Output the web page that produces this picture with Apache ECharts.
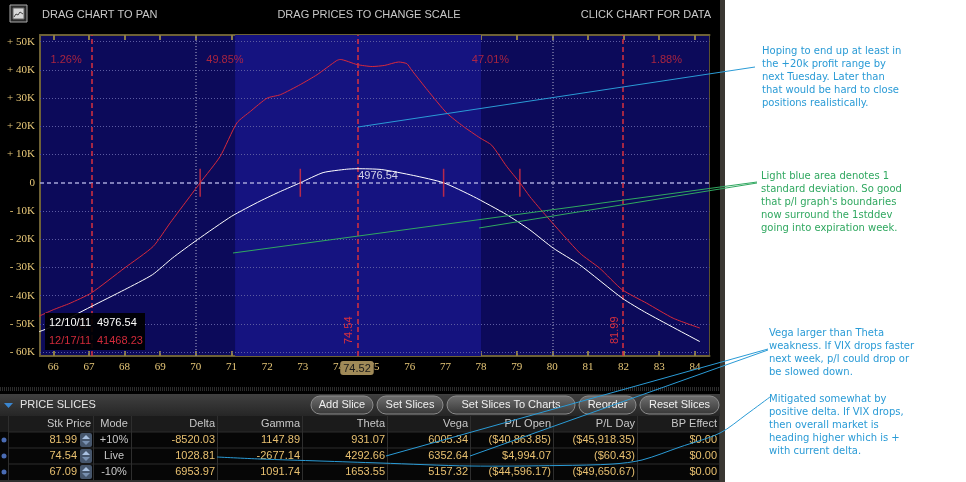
<!DOCTYPE html>
<html><head><meta charset="utf-8">
<script src="https://cdn.jsdelivr.net/npm/echarts@6/dist/echarts.min.js"></script>
<style>html,body{margin:0;padding:0;background:#000;}#c{width:966px;height:482px;}</style>
</head><body><div id="c"></div>
<script>
// ---------- data ----------
const xTicks = [66,67,68,69,70,71,72,73,74,75,76,77,78,79,80,81,82,83,84];
const yTicks = [-60,-50,-40,-30,-20,-10,0,10,20,30,40,50];
const verticalGrid = [70, 80];
// P/L at expiration (12/17/11), thousands of dollars
const expiryX  = [65.6, 66.0, 66.47, 67.06, 68.0, 68.8, 69.28, 69.83, 70.12, 70.68, 71.15, 71.53, 72.0, 72.37, 72.93, 73.4, 73.95, 74.05, 74.52, 74.95, 75.3, 75.69, 75.92, 76.05, 76.5, 77.04, 77.5, 77.97, 78.3, 78.72, 79.09, 79.37, 79.84, 80.77, 81.33, 81.96, 82.65, 83.39, 84.14];
const expiryPL = [-47.3, -45.0, -42.7, -39.1, -30.2, -22.6, -14.2, -4.9, 0, 9.3, 21.2, 25.3, 30.0, 31.2, 34.8, 38.3, 43.3, 43.7, 41.9, 41.2, 41.6, 42.8, 42.2, 40.0, 32.8, 24.7, 20.0, 15.9, 13.3, 5.8, 0, -4.9, -11.9, -24.9, -30.3, -37.9, -42.7, -48.0, -51.5];
// P/L today (12/10/11), thousands of dollars
const todayX  = [65.6, 66.0, 67.06, 68.0, 68.78, 69.34, 70.04, 71.0, 71.8, 72.37, 72.93, 73.57, 74.23, 74.52, 75.2, 76.1, 76.95, 77.79, 78.72, 79.37, 80.03, 80.77, 81.96, 82.65, 84.14];
const todayPL = [-52.8, -50.8, -43.9, -37.9, -32.6, -26.7, -20.2, -11.9, -6.5, -3.1, 0, 3.6, 4.8, 4.98, 4.7, 2.6, 0, -4.9, -11.3, -16.7, -23.2, -29.1, -40.9, -46.2, -56.3];
const breakevenExpiry = [70.12, 79.09];
const breakevenToday = [72.93, 76.95];
const slicePrices = [67.09, 74.54, 81.99];
const regionPct = ['1.26%', '49.85%', '47.01%', '1.88%'];
const stdDevRange = [71.1, 78.0];
const livePrice = 74.52;
const peakValue = 4976.54;
const readoutDates = ['12/10/11', '12/17/11'];
const readoutValues = ['4976.54', '41468.23'];
const headerTexts = ['DRAG CHART TO PAN', 'DRAG PRICES TO CHANGE SCALE', 'CLICK CHART FOR DATA'];
// price slices table
const tableHeaders = ['Stk Price','Mode','Delta','Gamma','Theta','Vega','P/L Open','P/L Day','BP Effect'];
const stkPrice = ['81.99','74.54','67.09'];
const modes    = ['+10%','Live','-10%'];
const delta    = ['-8520.03','1028.81','6953.97'];
const gamma    = ['1147.89','-2677.14','1091.74'];
const theta    = ['931.07','4292.66','1653.55'];
const vega     = ['6005.34','6352.64','5157.32'];
const plOpen   = ['($40,863.85)','$4,994.07','($44,596.17)'];
const plDay    = ['($45,918.35)','($60.43)','($49,650.67)'];
const bpEffect = ['$0.00','$0.00','$0.00'];
const buttons  = ['Add Slice','Set Slices','Set Slices To Charts','Reorder','Reset Slices'];
const notes = [
  'Hoping to end up at least in\nthe +20k profit range by\nnext Tuesday. Later than\nthat would be hard to close\npositions realistically.',
  'Light blue area denotes 1\nstandard deviation. So good\nthat p/l graph\'s boundaries\nnow surround the 1stddev\ngoing into expiration week.',
  'Vega larger than Theta\nweakness. If VIX drops faster\nnext week, p/l could drop or\nbe slowed down.',
  'Mitigated somewhat by\npositive delta. If VIX drops,\nthen overall market is\nheading higher which is +\nwith current delta.'
];

// ---------- layout constants ----------
const xMin = 65.627, xMax = 84.41, yMin = -61.4, yMax = 52.37;
const SANS = 'Liberation Sans, Arial, sans-serif';
const zip = (xs, ys) => xs.map((x, i) => [x, ys[i]]);
const bounds = [xMin].concat(slicePrices, [xMax]);

const chart = echarts.init(document.getElementById('c'), null, {renderer: 'canvas'});

// ---------- graphics (chrome, table, annotations) ----------
const G = [];
G.push({type:'rect', shape:{x:720,y:0,width:5,height:482}, style:{fill:'#3b3833'}, z:1});
G.push({type:'rect', shape:{x:725,y:0,width:241,height:482}, style:{fill:'#ffffff'}, z:1});
// header icon
G.push({type:'rect', shape:{x:10,y:5,width:17,height:17}, style:{fill:'#2a2a2a', stroke:'#aaaaaa', lineWidth:1}, z:10});
G.push({type:'rect', shape:{x:13,y:8,width:11,height:11}, style:{fill:'#d8d8d8', stroke:'#666', lineWidth:1}, z:11});
G.push({type:'polyline', shape:{points:[[14,17],[16,14],[18,15],[20,12],[23,14]]}, style:{stroke:'#444', lineWidth:1, fill:null}, z:12});
// header texts
G.push({type:'text', x:42, y:15, style:{text:headerTexts[0], fill:'#c8c8c8', font:'11px '+SANS, verticalAlign:'middle'}, z:10});
G.push({type:'text', x:369, y:15, style:{text:headerTexts[1], fill:'#c8c8c8', font:'11px '+SANS, verticalAlign:'middle', align:'center'}, z:10});
G.push({type:'text', x:711, y:15, style:{text:headerTexts[2], fill:'#c8c8c8', font:'11px '+SANS, verticalAlign:'middle', align:'right'}, z:10});
// readout box
G.push({type:'rect', shape:{x:45,y:313,width:100,height:37}, style:{fill:'rgba(0,0,0,0.92)'}, z:60});
G.push({type:'text', x:49, y:323, style:{text:readoutDates[0], fill:'#ffffff', font:'11px '+SANS, verticalAlign:'middle'}, z:61});
G.push({type:'text', x:97, y:323, style:{text:readoutValues[0], fill:'#ffffff', font:'11px '+SANS, verticalAlign:'middle'}, z:61});
G.push({type:'text', x:49, y:341, style:{text:readoutDates[1], fill:'#d02a3a', font:'11px '+SANS, verticalAlign:'middle'}, z:61});
G.push({type:'text', x:97, y:341, style:{text:readoutValues[1], fill:'#d02a3a', font:'11px '+SANS, verticalAlign:'middle'}, z:61});
// dotted separator
G.push({type:'line', shape:{x1:0,y1:388,x2:720,y2:388}, style:{stroke:'#5a5a5a', lineWidth:1, lineDash:[1,1]}, z:10});
G.push({type:'line', shape:{x1:0,y1:390,x2:720,y2:390}, style:{stroke:'#5a5a5a', lineWidth:1, lineDash:[1,1]}, z:10});
// price slices header bar
G.push({type:'rect', shape:{x:0,y:394,width:720,height:22}, style:{fill:new echarts.graphic.LinearGradient(0,0,0,1,[{offset:0,color:'#404040'},{offset:1,color:'#262626'}])}, z:10});
G.push({type:'polygon', shape:{points:[[4,403],[13,403],[8.5,408]]}, style:{fill:'#3a86d0'}, z:11});
G.push({type:'text', x:20, y:405, style:{text:'PRICE SLICES', fill:'#e4e4e4', font:'11px '+SANS, verticalAlign:'middle'}, z:11});
const btnX = [[311,373],[377,443],[447,575],[579,636],[640,719]];
buttons.forEach((b, i) => {
  const [a, e] = btnX[i];
  G.push({type:'rect', shape:{x:a,y:396,width:e-a,height:18,r:9}, style:{fill:new echarts.graphic.LinearGradient(0,0,0,1,[{offset:0,color:'#707070'},{offset:1,color:'#363636'}]), stroke:'#8c8c8c', lineWidth:1}, z:11});
  G.push({type:'text', x:(a+e)/2, y:405, style:{text:b, fill:'#f0f0f0', font:'11px '+SANS, verticalAlign:'middle', align:'center'}, z:12});
});
// table
G.push({type:'rect', shape:{x:0,y:416,width:720,height:16}, style:{fill:'#1b1b1b'}, z:10});
[432,448,464].forEach((y) => {
  G.push({type:'rect', shape:{x:0,y:y,width:720,height:16}, style:{fill:'#060606'}, z:10});
  G.push({type:'line', shape:{x1:8,y1:y,x2:719,y2:y}, style:{stroke:'#2c2c2c', lineWidth:1}, z:11});
});
G.push({type:'rect', shape:{x:0,y:480,width:720,height:2}, style:{fill:'#303030'}, z:10});
[8,93,131,217,302,387,470,553,637,719].forEach((x) => {
  G.push({type:'line', shape:{x1:x+0.5,y1:416,x2:x+0.5,y2:480}, style:{stroke:'#2e2e2e', lineWidth:1}, z:11});
});
const colRight = [91, 114, 215, 300, 385, 468, 551, 635, 717];
tableHeaders.forEach((h, i) => {
  G.push({type:'text', x:colRight[i], y:424, style:{text:h, fill:'#c8c8c8', font:'11px '+SANS, verticalAlign:'middle', align: i===1 ? 'center' : 'right'}, z:12});
});
const rowY = [440, 456, 472];
const cols = [delta, gamma, theta, vega, plOpen, plDay, bpEffect];
rowY.forEach((y, r) => {
  G.push({type:'circle', shape:{cx:4,cy:y,r:2.5}, style:{fill:'#4a6cb4'}, z:12});
  G.push({type:'text', x:77, y:y, style:{text:stkPrice[r], fill:'#e8c070', font:'11px '+SANS, verticalAlign:'middle', align:'right'}, z:12});
  G.push({type:'rect', shape:{x:80,y:y-7,width:12,height:14,r:2}, style:{fill:'#46566c'}, z:12});
  G.push({type:'polygon', shape:{points:[[82,y-1],[90,y-1],[86,y-5]]}, style:{fill:'#a8c0e0'}, z:13});
  G.push({type:'polygon', shape:{points:[[82,y+1],[90,y+1],[86,y+5]]}, style:{fill:'#7890b0'}, z:13});
  G.push({type:'text', x:114, y:y, style:{text:modes[r], fill:'#c8c8c8', font:'11px '+SANS, verticalAlign:'middle', align:'center'}, z:12});
  cols.forEach((c, j) => {
    G.push({type:'text', x:colRight[j+2], y:y, style:{text:c[r], fill:'#e8c070', font:'11px '+SANS, verticalAlign:'middle', align:'right'}, z:12});
  });
});
// annotation lines
const BLUE = '#2a9bd6', GREEN = '#30a860';
G.push({type:'line', shape:{x1:358,y1:127,x2:755,y2:67}, style:{stroke:BLUE, lineWidth:1}, z:80});
G.push({type:'line', shape:{x1:233,y1:253,x2:757,y2:182}, style:{stroke:GREEN, lineWidth:1}, z:80});
G.push({type:'line', shape:{x1:479,y1:228,x2:757,y2:183}, style:{stroke:GREEN, lineWidth:1}, z:80});
G.push({type:'line', shape:{x1:386,y1:456,x2:768,y2:349}, style:{stroke:BLUE, lineWidth:1}, z:80});
G.push({type:'line', shape:{x1:470,y1:456,x2:768,y2:350}, style:{stroke:BLUE, lineWidth:1}, z:80});
G.push({type:'polyline', shape:{smooth:0.3, points:[[217,457],[260,459],[320,461],[380,463],[470,466],[560,465.5],[613,464],[642,460],[680,447],[720,433],[747,414],[770,397]]}, style:{stroke:BLUE, lineWidth:1, fill:null}, z:80});
// annotation texts
const noteStyle = [[762,45,BLUE],[761,169.5,GREEN],[769,326.5,BLUE],[769,392.5,BLUE]];
notes.forEach((t, i) => {
  const [x, y, c] = noteStyle[i];
  G.push({type:'text', x:x, y:y, style:{text:t, fill:c, font:'10px DejaVu Sans, Verdana, sans-serif', lineHeight:13, verticalAlign:'top'}, z:20});
});

// ---------- chart ----------
const gridLines = yTicks.filter(v => v !== 0).map(v => ({yAxis:v, lineStyle:{color:'#5c5ca2', type:[1,2], width:1}}))
  .concat([{yAxis:0, lineStyle:{color:'#a4a4d8', type:[4,3], width:1.5}}])
  .concat(verticalGrid.map(v => ({xAxis:v, lineStyle:{color:'#7a7aa6', type:[1,2], width:1.5}})));

const axisCommon = {
  type:'value', min:xMin, max:xMax,
  axisLine:{show:true, onZero:false, lineStyle:{color:'#6e6236', width:2}},
  axisTick:{show:true, inside:true, length:5, customValues:xTicks, lineStyle:{color:'#8c7c48', width:2}},
  splitLine:{show:false}
};

chart.setOption({
  backgroundColor:'#000000',
  animation:false,
  grid:{left:40, top:35, right:256.5, bottom:126, show:true, backgroundColor:'#0c0a5a', borderColor:'#5a5030', borderWidth:1},
  xAxis:[
    Object.assign({}, axisCommon, {position:'bottom',
      axisLabel:{customValues:xTicks, color:'#e8c878', fontFamily:'Liberation Serif, serif', fontSize:11, margin:6},
      axisPointer:{show:true, value:livePrice, status:'show', triggerTooltip:false, lineStyle:{opacity:0},
        label:{show:true, backgroundColor:'#a08a58', color:'#1a1a1a', padding:[2,3,1,3], fontSize:11, fontFamily:SANS, margin:5,
          formatter:(p) => Number(p.value).toFixed(2)}}}),
    Object.assign({}, axisCommon, {position:'top', axisLabel:{show:false}})
  ],
  yAxis:{
    type:'value', min:yMin, max:yMax,
    axisLine:{show:true, onZero:false, lineStyle:{color:'#6e6236', width:2}},
    axisTick:{show:false},
    splitLine:{show:false},
    axisLabel:{customValues:yTicks, color:'#e8c878', fontFamily:'Liberation Serif, serif', fontSize:11, margin:5,
      formatter:(v) => v > 0 ? '+ ' + v + 'K' : (v < 0 ? '- ' + (-v) + 'K' : '0')}
  },
  graphic:{elements:G},
  series:[
    {type:'line', data:zip(expiryX, expiryPL), z:1, silent:true, showSymbol:false, lineStyle:{opacity:0},
      markArea:{silent:true, itemStyle:{color:'#151380'}, data:[[{xAxis:stdDevRange[0]},{xAxis:stdDevRange[1]}]]}},
    {type:'line', data:zip(expiryX, expiryPL), z:2, silent:true, showSymbol:false, lineStyle:{opacity:0},
      markLine:{silent:true, symbol:['none','none'], label:{show:false}, data:gridLines}},
    {type:'line', name:'12/17/11', data:zip(expiryX, expiryPL), z:5, showSymbol:false, smooth:0.2,
      lineStyle:{color:'#d82a3c', width:1},
      markLine:{silent:true, symbol:['none','none'], lineStyle:{color:'#d8303e', type:[5,3], width:1.5},
        label:{show:true, position:'insideStartTop', color:'#d8303e', fontSize:11, fontFamily:SANS, distance:[12,3], formatter:'{c}'},
        data:slicePrices.map(v => ({xAxis:v}))}},
    {type:'line', name:'12/10/11', data:zip(todayX, todayPL), z:6, showSymbol:false, smooth:0.2,
      lineStyle:{color:'#ffffff', width:1}},
    {type:'scatter', data:breakevenExpiry.concat(breakevenToday).map(x => [x, 0]), symbol:'rect', symbolSize:[1.5, 28], itemStyle:{color:'#e0303f'}, z:7, silent:true},
    {type:'scatter', data:regionPct.map((t, i) => ({value:[(bounds[i] + bounds[i+1]) / 2, 43.6], name:t})), symbolSize:1, itemStyle:{color:'transparent'}, z:8, silent:true,
      label:{show:true, position:'inside', formatter:'{b}', color:'#d02a3a', fontSize:11, fontFamily:SANS}},
    {type:'scatter', data:[[slicePrices[1], peakValue / 1000]], symbolSize:1, itemStyle:{color:'transparent'}, z:8, silent:true,
      label:{show:true, position:[1, 2], formatter:() => peakValue.toFixed(2), color:'#ffffff', fontSize:11, fontFamily:SANS}}
  ]
});
</script></body></html>
